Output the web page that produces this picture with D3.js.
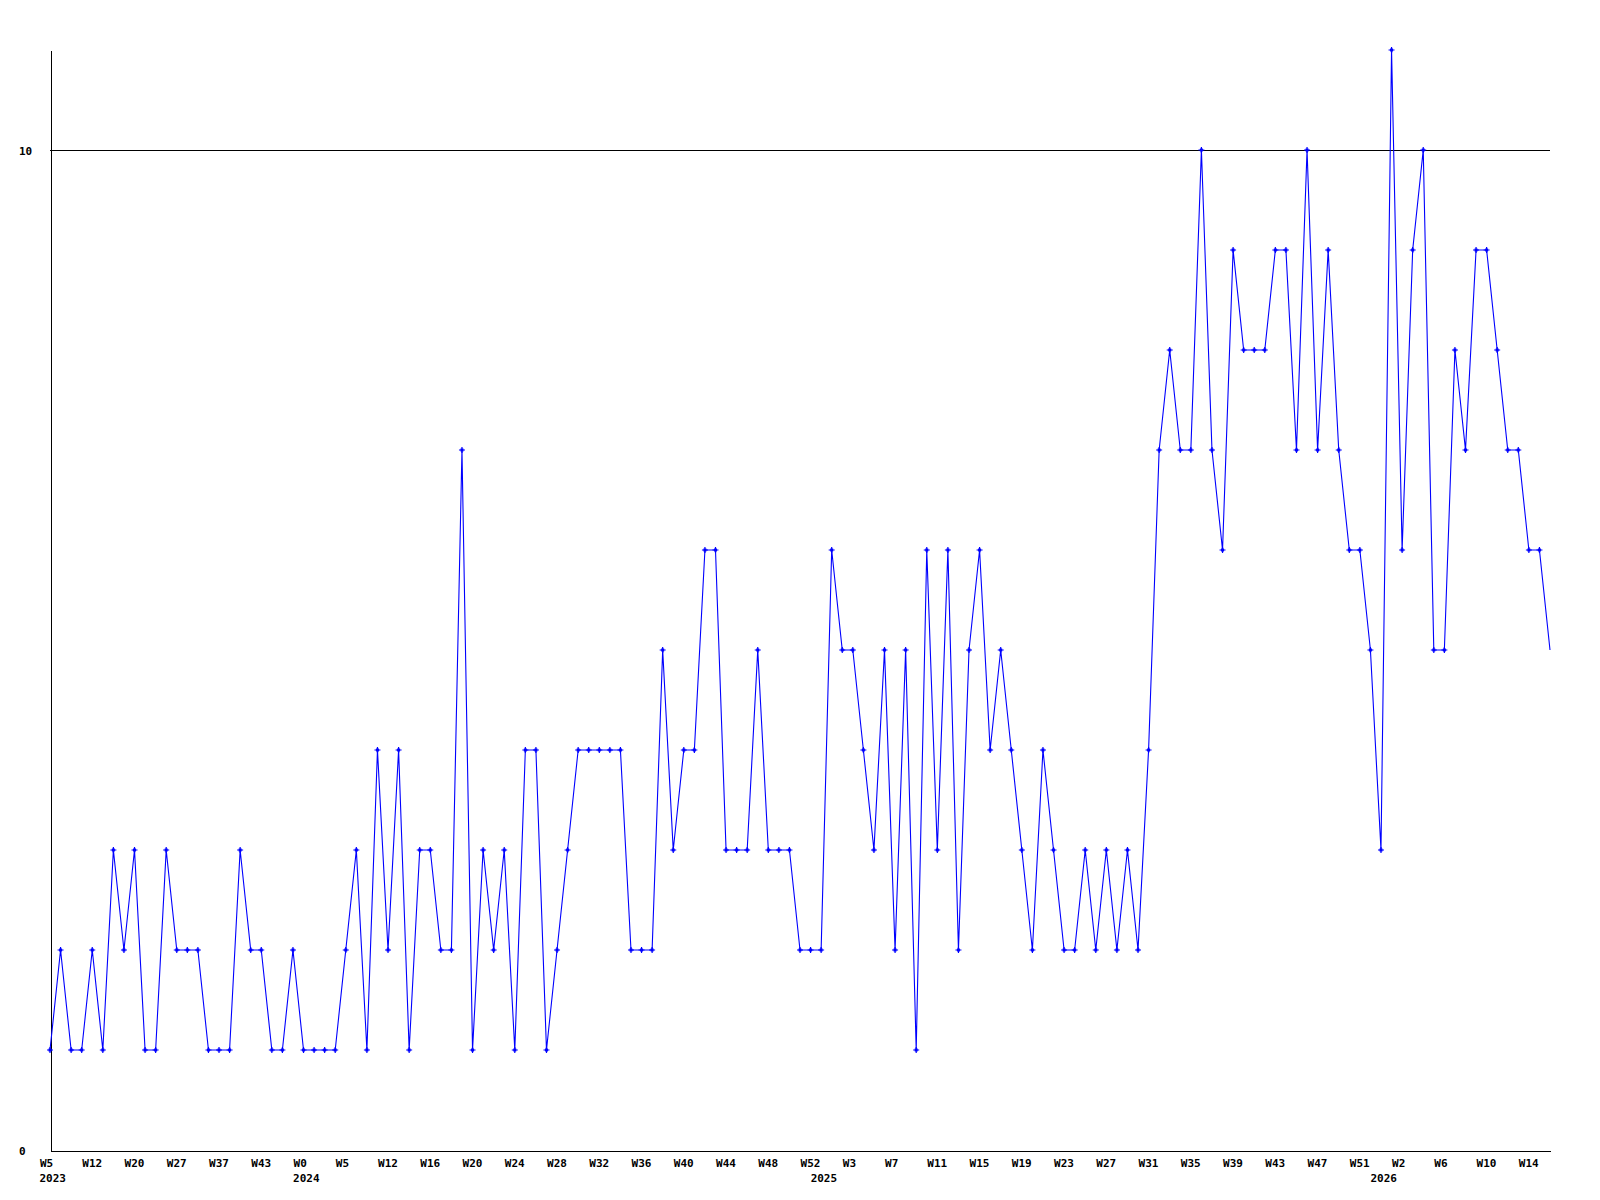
<!DOCTYPE html>
<html>
<head>
<meta charset="utf-8">
<script src="https://cdn.jsdelivr.net/npm/d3@7"></script>
<style>
  html, body { margin: 0; padding: 0; background: #fff; }
  svg { display: block; }
  text { font-family: "DejaVu Sans Mono", "Liberation Mono", monospace; font-weight: bold; font-size: 11px; fill: #000; }
</style>
</head>
<body>
<svg id="chart" width="1600" height="1200"></svg>
<script>
// weekly counts, one value per plotted week
const values = [
  1,2,1,1,2,1,3,2,3,1,
  1,3,2,2,2,1,1,1,3,2,
  2,1,1,2,1,1,1,1,2,3,
  1,4,2,4,1,3,3,2,2,7,
  1,3,2,3,1,4,4,1,2,3,
  4,4,4,4,4,2,2,2,5,3,
  4,4,6,6,3,3,3,5,3,3,
  3,2,2,2,6,5,5,4,3,5,
  2,5,1,6,3,6,2,5,6,4,
  5,4,3,2,4,3,2,2,3,2,
  3,2,3,2,4,7,8,7,7,10,
  7,6,9,8,8,8,9,9,7,10,
  7,9,7,6,6,5,3,11,6,9,
  10,5,5,8,7,9,9,8,7,7,
  6,6,5
];
// week tick labels (every 4th plotted week)
const tickLabels = ["W5","W12","W20","W27","W37","W43","W0","W5","W12","W16","W20","W24",
  "W28","W32","W36","W40","W44","W48","W52","W3","W7","W11","W15","W19","W23","W27",
  "W31","W35","W39","W43","W47","W51","W2","W6","W10","W14"];
const tickStep = 4;
// year labels and the index of the first plotted week of each year
const years = ["2023","2024","2025","2026"];
const yearIndex = [0, 24, 73, 126];
const yTicks = [0, 10];
const yMax = 11;

const svg = d3.select("#chart");
const mLeft = 50, mRight = 1550, mTop = 50, mBottom = 1150;

const x = d3.scaleLinear().domain([0, values.length - 1]).range([mLeft, mRight]);
const y = d3.scaleLinear().domain([0, yMax]).range([mBottom, mTop]);

// gridline at 10
svg.append("line")
  .attr("x1", mLeft).attr("x2", mRight)
  .attr("y1", y(10) + 0.5).attr("y2", y(10) + 0.5)
  .attr("stroke", "#000").attr("stroke-width", 1)
  .attr("shape-rendering", "crispEdges");

// x axis
const tickIdx = tickLabels.map((_, i) => i * tickStep);
const xAxis = d3.axisBottom(x)
  .tickValues(tickIdx)
  .tickFormat((d, i) => tickLabels[i])
  .tickSize(0).tickSizeOuter(0).tickPadding(0);
const gx = svg.append("g").attr("transform", `translate(0.5,${mBottom + 0.5})`).call(xAxis);
gx.select(".domain").attr("stroke", "#000").attr("shape-rendering", "crispEdges");
gx.selectAll(".tick text")
  .attr("text-anchor", "start")
  .attr("x", -11).attr("y", 16).attr("dy", 0)
  .style("font-family", '"DejaVu Sans Mono", monospace')
  .style("font-weight", "bold").style("font-size", "11px");

// year labels
svg.append("g").selectAll("text").data(years).join("text")
  .attr("x", (d, i) => x(yearIndex[i]) - 10.5)
  .attr("y", mBottom + 32)
  .attr("text-anchor", "start")
  .text(d => d);

// y axis
const yAxis = d3.axisLeft(y).tickValues(yTicks).tickFormat(d3.format("d"))
  .tickSize(0).tickSizeOuter(0).tickPadding(0);
const gy = svg.append("g").attr("transform", `translate(${mLeft + 0.5},0.5)`).call(yAxis);
gy.select(".domain").attr("stroke", "#000").attr("shape-rendering", "crispEdges");
gy.selectAll(".tick text")
  .attr("text-anchor", "start")
  .attr("x", -31.5).attr("dy", "0.35em")
  .style("font-family", '"DejaVu Sans Mono", monospace')
  .style("font-weight", "bold").style("font-size", "11px");

// line
const line = d3.line().x((d, i) => x(i)).y(d => y(d));
svg.append("path")
  .datum(values)
  .attr("d", line)
  .attr("fill", "none")
  .attr("stroke", "#0000ff")
  .attr("stroke-width", 1.1);

// markers (small crosses with a solid centre)
const pts = values.slice(0, values.length - 1);
const mk = svg.append("g");
mk.selectAll("path").data(pts).join("path")
  .attr("d", (d, i) => {
    const cx = x(i), cy = y(d);
    return `M${cx - 3},${cy}H${cx + 3}M${cx},${cy - 3}V${cy + 3}`;
  })
  .attr("stroke", "#0000ff")
  .attr("stroke-width", 1.2)
  .attr("fill", "none");
mk.selectAll("rect").data(pts).join("rect")
  .attr("x", (d, i) => x(i) - 1.5)
  .attr("y", d => y(d) - 1.5)
  .attr("width", 3).attr("height", 3)
  .attr("fill", "#0000ff");
</script>
</body>
</html>
